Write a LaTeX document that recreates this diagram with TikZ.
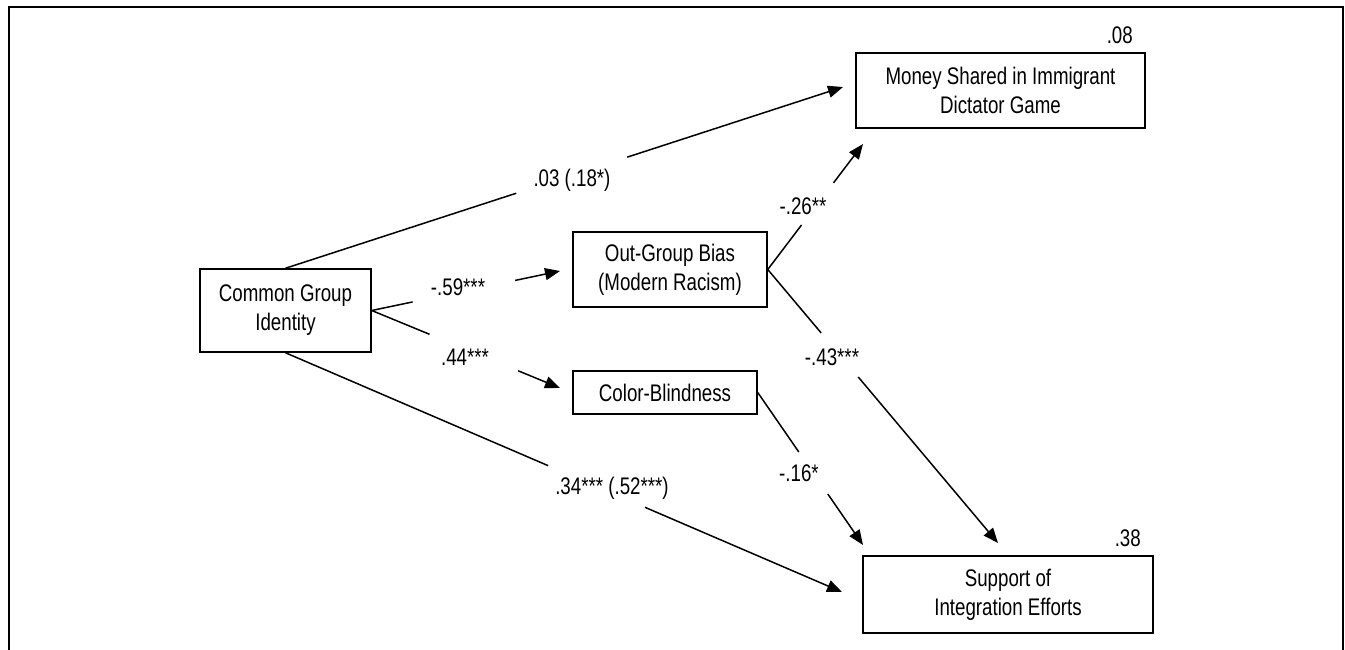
\documentclass[tikz,border=0pt]{standalone}
\usepackage{fontspec}
\setmainfont{Liberation Sans}[FakeStretch=0.78]
\usetikzlibrary{arrows.meta,calc}
\begin{document}
\begin{tikzpicture}[x=1pt,y=-1pt,
  box/.style={draw,line width=1.5pt,align=center,inner sep=0pt,
    font=\fontsize{24}{29}\selectfont},
  lbl/.style={font=\fontsize{24}{26}\selectfont,inner sep=0pt},
  conn/.style={line width=1.5pt},
  arr/.style={line width=1.5pt,-{Triangle[length=15pt,width=12pt]}}]
\useasboundingbox (0,0) rectangle (1345,649);
\draw[line width=2pt] (9,700) -- (9,7) -- (1343,7) -- (1343,700);
% boxes
\node[box,minimum width=171pt,minimum height=83pt] (cgi) at (285.5,310.5) {Common Group\\Identity};
\node[box,minimum width=194pt,minimum height=75pt] (ogb) at (670,269.5) {Out-Group Bias\\(Modern Racism)};
\node[box,minimum width=184pt,minimum height=43pt] (cb) at (665,392.5) {Color-Blindness};
\node[box,minimum width=289pt,minimum height=75pt] (msd) at (1000.5,90.5) {Money Shared in Immigrant\\Dictator Game};
\node[box,minimum width=290pt,minimum height=77pt] (sie) at (1008,594.5) {Support of\\Integration Efforts};
% R-squared
\node[lbl,anchor=east] (r1) at (1133,35) {.08};
\node[lbl,anchor=east] (r2) at (1141,538) {.38};
% arrow tips
\coordinate (t1) at (843,87);
\coordinate (t2) at (560,271);
\coordinate (t3) at (560,388);
\coordinate (t4) at (842,592);
\coordinate (t5) at (863,144);
\coordinate (t6) at (998,543);
\coordinate (t7) at (863,545);
% connectors
\draw[conn] (cgi.north) -- ($(cgi.north)!0.414!(t1)$);
\draw[arr] ($(cgi.north)!0.613!(t1)$) -- (t1);
\node[lbl] (l1) at (572,180) {.03 (.18*)};
\draw[conn] (cgi.east) -- ($(cgi.east)!0.217!(t2)$);
\draw[arr] ($(cgi.east)!0.762!(t2)$) -- (t2);
\node[lbl] (l2) at (458,287) {-.59***};
\draw[conn] (cgi.east) -- ($(cgi.east)!0.307!(t3)$);
\draw[arr] ($(cgi.east)!0.778!(t3)$) -- (t3);
\node[lbl] (l3) at (465,357) {.44***};
\draw[conn] (cgi.south) -- ($(cgi.south)!0.472!(t4)$);
\draw[arr] ($(cgi.south)!0.646!(t4)$) -- (t4);
\node[lbl] (l4) at (612,488) {.34*** (.52***)};
\draw[conn] (ogb.east) -- ($(ogb.east)!0.355!(t5)$);
\draw[arr] ($(ogb.east)!0.69!(t5)$) -- (t5);
\node[lbl] (l5) at (803,206) {-.26**};
\draw[conn] (ogb.east) -- ($(ogb.east)!0.232!(t6)$);
\draw[arr] ($(ogb.east)!0.393!(t6)$) -- (t6);
\node[lbl] (l6) at (832,357) {-.43***};
\draw[conn] (cb.east) -- ($(cb.east)!0.39!(t7)$);
\draw[arr] ($(cb.east)!0.666!(t7)$) -- (t7);
\node[lbl] (l7) at (799,473) {-.16*};
\end{tikzpicture}
\end{document}
